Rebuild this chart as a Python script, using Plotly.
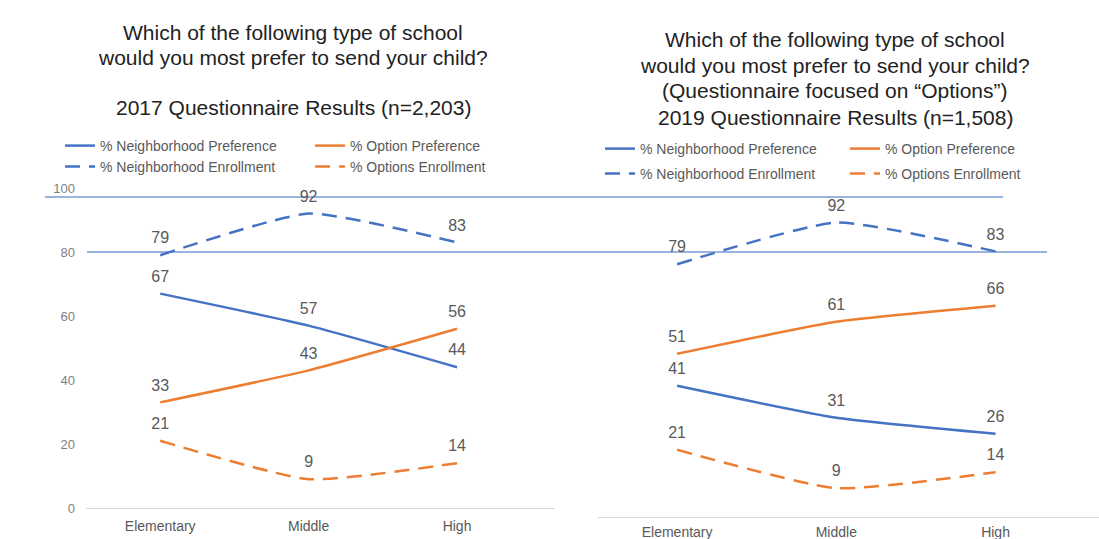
import plotly.graph_objects as go

# ---- data ----
categories = ["Elementary", "Middle", "High"]

nbhd_pref_2017 = [67, 57, 44]
option_pref_2017 = [33, 43, 56]
nbhd_enroll_2017 = [79, 92, 83]
options_enroll_2017 = [21, 9, 14]

nbhd_pref_2019 = [41, 31, 26]
option_pref_2019 = [51, 61, 66]
nbhd_enroll_2019 = [79, 92, 83]
options_enroll_2019 = [21, 9, 14]

y_ticks = [0, 20, 40, 60, 80, 100]

series_names = ["% Neighborhood Preference", "% Option Preference",
                "% Neighborhood Enrollment", "% Options Enrollment"]

BLUE = "#4472C4"
ORANGE = "#ED7D31"
GRAY = "#595959"
REF_LINE = "#9ab3e0"
FONT = "Liberation Sans, Arial, sans-serif"
W, H = 1099, 539

fig = go.Figure()

def px_x(p):
    return p / W

def px_y(p):
    return 1 - p / H

specs = [
    (series_names[0], BLUE, "solid"),
    (series_names[1], ORANGE, "solid"),
    (series_names[2], BLUE, "15px,9px"),
    (series_names[3], ORANGE, "15px,9px"),
]

left_data = [nbhd_pref_2017, option_pref_2017, nbhd_enroll_2017, options_enroll_2017]
right_data = [nbhd_pref_2019, option_pref_2019, nbhd_enroll_2019, options_enroll_2019]

legend_ids_left = ["legend", "legend2", "legend3", "legend4"]
legend_ids_right = ["legend5", "legend6", "legend7", "legend8"]

def add_series(xa, ya, data, legends):
    for (name, color, dash), vals, lg in zip(specs, data, legends):
        fig.add_trace(go.Scatter(
            x=categories, y=vals, name=name, mode="lines+markers+text",
            text=[str(v) for v in vals], textposition="top center",
            textfont=dict(size=16, color=GRAY, family=FONT),
            marker=dict(size=11, color="rgba(0,0,0,0)", line=dict(width=0)),
            line=dict(color=color, width=2.5, dash=dash, shape="spline", smoothing=0.5),
            xaxis=xa, yaxis=ya, legend=lg, cliponaxis=False, showlegend=True,
        ))

add_series("x", "y", left_data, legend_ids_left)
add_series("x2", "y2", right_data, legend_ids_right)

# legends positions (pixel coords of sample start, row centre)
legend_pos = {
    "legend": (67, 146), "legend2": (317, 146), "legend3": (67, 167), "legend4": (317, 167),
    "legend5": (607, 149), "legend6": (852, 149), "legend7": (607, 174), "legend8": (852, 174),
}
legend_layouts = {}
for key, (lx, ly) in legend_pos.items():
    legend_layouts[key] = dict(
        x=px_x(lx - 7), y=px_y(ly), xanchor="left", yanchor="middle",
        bgcolor="rgba(0,0,0,0)", borderwidth=0, itemwidth=30,
        font=dict(size=14, color=GRAY, family=FONT), tracegroupgap=0,
    )

fig.update_layout(
    width=W, height=H,
    margin=dict(l=0, r=0, t=0, b=0, autoexpand=False),
    showlegend=True,
    paper_bgcolor="white", plot_bgcolor="rgba(0,0,0,0)",
    font=dict(family=FONT, color=GRAY),
    xaxis=dict(domain=[px_x(86), px_x(555)], type="category", range=[-0.5, 2.66],
               showgrid=False, zeroline=False, showline=True, linecolor="#d9d9d9",
               linewidth=1, ticks="", tickfont=dict(size=14, color=GRAY),
               ticklabelstandoff=5, anchor="y"),
    yaxis=dict(domain=[px_y(508), px_y(188)], range=[0, 100], tickvals=y_ticks,
               showgrid=False, zeroline=False, showline=False, ticks="",
               tickfont=dict(size=13, color="#7f7f7f"), ticklabelstandoff=10, anchor="x"),
    xaxis2=dict(domain=[px_x(597.5), 1.0], type="category", range=[-0.5, 2.65],
                showgrid=False, zeroline=False, showline=True, linecolor="#d9d9d9",
                linewidth=1, ticks="", tickfont=dict(size=14, color=GRAY),
                ticklabelstandoff=2, anchor="y2"),
    yaxis2=dict(domain=[px_y(517), px_y(517 - 104 * 3.2)], range=[0, 104],
                showticklabels=False, showgrid=False, zeroline=False, showline=False,
                ticks="", anchor="x2"),
    **legend_layouts,
)

# light blue horizontal reference lines (80 on left scale, 100 on right scale)
fig.add_shape(type="line", xref="paper", yref="y", x0=px_x(87), x1=px_x(1047),
              y0=80, y1=80, line=dict(color=REF_LINE, width=2), layer="below")
fig.add_shape(type="line", xref="paper", yref="y2", x0=px_x(45), x1=px_x(1003),
              y0=100, y1=100, line=dict(color=REF_LINE, width=2), layer="below")

TITLE_COLOR = "#222222"
left_title = ["Which of the following type of school",
              "would you most prefer to send your child?",
              "2017 Questionnaire Results (n=2,203)"]
left_title_y = [32, 58, 108]
right_title = ["Which of the following type of school",
               "would you most prefer to send your child?",
               "(Questionnaire focused on \u201cOptions\u201d)",
               "2019 Questionnaire Results (n=1,508)"]
right_title_y = [40, 65, 91, 117]

for t, yy in zip(left_title, left_title_y):
    fig.add_annotation(text=t, xref="paper", yref="paper", x=px_x(293), y=px_y(yy),
                       xanchor="center", yanchor="middle", showarrow=False,
                       font=dict(size=21, color=TITLE_COLOR, family=FONT))
for t, yy in zip(right_title, right_title_y):
    fig.add_annotation(text=t, xref="paper", yref="paper", x=px_x(835), y=px_y(yy),
                       xanchor="center", yanchor="middle", showarrow=False,
                       font=dict(size=21, color=TITLE_COLOR, family=FONT))

fig.write_html("out.html", config={"displayModeBar": False},
               post_script="document.body.style.margin='0px';document.body.style.overflow='hidden';")
